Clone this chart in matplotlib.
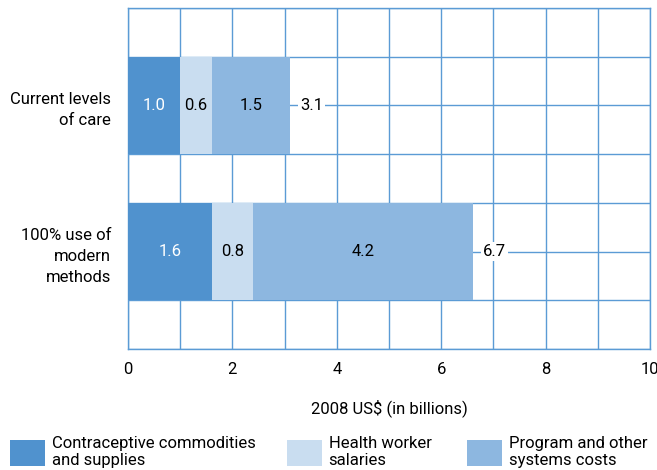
import matplotlib
matplotlib.use("Agg")
import matplotlib.pyplot as plt
from matplotlib.patches import Patch

plt.rcParams['font.family'] = ['Roboto', 'DejaVu Sans']

categories = ["Current levels\nof care", "100% use of\nmodern\nmethods"]
series_names = ["Contraceptive commodities\nand supplies", "Health worker\nsalaries",
                "Program and other\nsystems costs"]
commodities = [1.0, 1.6]
salaries = [0.6, 0.8]
program = [1.5, 4.2]
totals = [3.1, 6.7]
xticks = [0, 2, 4, 6, 8, 10]

colors = ["#5092CE", "#C9DDF0", "#8DB7E0"]
text_colors = ["white", "black", "black"]
grid_color = "#5B9BD5"
fs = 12

fig = plt.figure(figsize=(6.57, 4.70), dpi=100)
ax = fig.add_axes([128/657, 1-349/470, 522/657, 341/470])

ypos = [5, 2]
series = [commodities, salaries, program]
lefts = [0.0, 0.0]
for vals, col, tc in zip(series, colors, text_colors):
    ax.barh(ypos, vals, left=lefts, height=2.0, color=col, zorder=3, linewidth=0)
    for y, v, l in zip(ypos, vals, lefts):
        ax.text(l + v/2, y, f"{v:.1f}", ha='center', va='center', color=tc,
                fontsize=fs, zorder=4)
    lefts = [a + b for a, b in zip(lefts, vals)]

for y, end, t in zip(ypos, lefts, totals):
    ax.text(end + 0.42, y, f"{t:.1f}", ha='center', va='center', color='black',
            fontsize=fs, zorder=4,
            bbox=dict(boxstyle='square,pad=0.12', fc='white', ec='none'))

ax.set_xlim(0, 10)
ax.set_ylim(0, 7)
ax.set_xticks(list(range(11)), minor=True)
ax.set_xticks(xticks)
ax.set_xticklabels([str(t) for t in xticks], fontsize=fs)
ax.set_yticks(list(range(8)), minor=True)
ax.set_yticks(ypos)
ax.set_yticklabels(categories, fontsize=fs, ha='right', linespacing=1.5)
ax.tick_params(which='both', length=0)
ax.tick_params(axis='x', pad=9)
ax.tick_params(axis='y', pad=12)
ax.grid(which='both', color=grid_color, linewidth=1.0, zorder=1)
ax.set_axisbelow(True)
for s in ax.spines.values():
    s.set_color(grid_color)
    s.set_linewidth(1.0)
    s.set_zorder(2)

ax.set_xlabel("2008 US$ (in billions)", fontsize=fs, labelpad=16)

leg_x = [10/657, 287/657, 467/657]
for x, name, col in zip(leg_x, series_names, colors):
    fig.legend(handles=[Patch(facecolor=col, edgecolor='none', label=name)],
               loc='upper left', bbox_to_anchor=(x, 1-436/470), frameon=False,
               fontsize=fs, handlelength=2.1, handleheight=2.1, handletextpad=0.4,
               borderpad=0, borderaxespad=0, labelspacing=0)

fig.savefig("out.png", dpi=100)
